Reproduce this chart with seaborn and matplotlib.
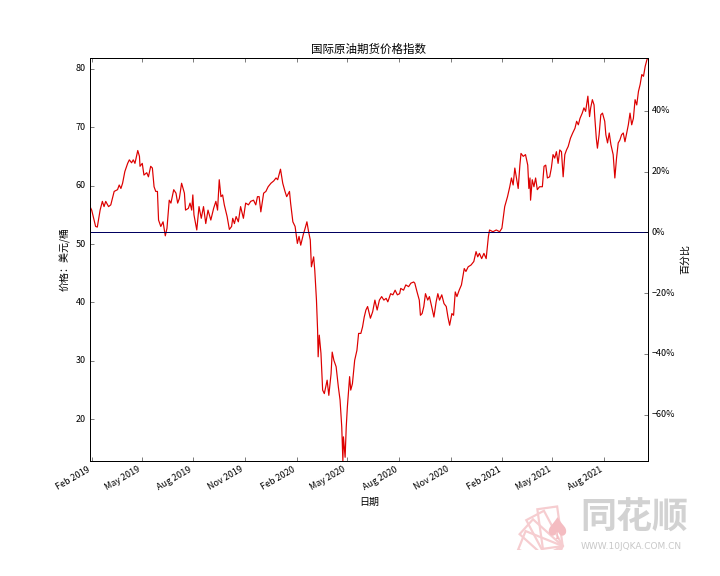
import numpy as np
import pandas as pd
import matplotlib

matplotlib.use("Agg")
import matplotlib.pyplot as plt
import matplotlib.dates as mdates
from matplotlib.patches import Rectangle
from matplotlib.ticker import PercentFormatter, MultipleLocator
import seaborn as sns

########
# Data #
########

# Month-day per year, price in USD per barrel
days_2019 = [
    "01-29", "02-01", "02-03", "02-08", "02-11", "02-16", "02-20", "02-23", "02-26",
    "03-03", "03-07", "03-13", "03-19", "03-22", "03-25", "03-28", "04-01", "04-06",
    "04-09", "04-13", "04-16", "04-19", "04-24", "04-27", "04-28", "05-02", "05-05",
    "05-10", "05-13", "05-17", "05-20", "05-23", "05-26", "05-29", "05-31", "06-04",
    "06-08", "06-12", "06-15", "06-19", "06-22", "06-27", "07-01", "07-04", "07-07",
    "07-11", "07-16", "07-18", "07-23", "07-26", "07-29", "07-31", "08-02", "08-07",
    "08-11", "08-15", "08-19", "08-23", "08-27", "09-01", "09-06", "09-10", "09-13",
    "09-16", "09-19", "09-22", "09-25", "09-30", "10-04", "10-08", "10-10", "10-13",
    "10-16", "10-20", "10-24", "10-29", "11-02", "11-07", "11-11", "11-16", "11-20",
    "11-23", "11-26", "11-29", "12-04", "12-08", "12-12", "12-17", "12-22", "12-26",
    "12-29",
]
prices_2019 = [
    56.4, 55.8, 55.0, 53.0, 52.9, 55.8, 57.3, 56.4, 57.3,
    56.4, 56.7, 59.0, 59.3, 60.1, 59.5, 60.4, 62.4, 63.8,
    64.4, 63.9, 64.4, 63.8, 66.0, 65.0, 63.3, 63.8, 61.8,
    62.2, 61.5, 63.3, 63.0, 59.8, 59.0, 59.0, 54.1, 53.0,
    53.8, 51.4, 52.7, 57.5, 57.0, 59.3, 58.7, 57.0, 57.8,
    60.4, 58.7, 55.8, 56.1, 57.0, 55.8, 58.4, 55.0, 52.4,
    56.4, 54.4, 56.4, 53.5, 55.8, 54.1, 56.1, 57.3, 55.8,
    61.0, 58.1, 58.4, 56.7, 54.7, 52.5, 53.0, 54.4, 53.5,
    54.7, 53.8, 56.4, 54.4, 57.0, 56.7, 57.3, 57.5, 56.7,
    58.1, 58.1, 55.5, 58.7, 59.0, 59.8, 60.4, 60.8, 61.3,
    61.0,
]

days_2020 = [
    "01-03", "01-07", "01-11", "01-14", "01-19", "01-21", "01-25", "01-29", "02-02",
    "02-05", "02-08", "02-13", "02-15", "02-19", "02-22", "02-25", "02-27", "03-02",
    "03-04", "03-07", "03-09", "03-10", "03-12", "03-15", "03-18", "03-21", "03-26",
    "03-29", "04-02", "04-04", "04-07", "04-11", "04-15", "04-18", "04-21", "04-23",
    "04-24", "04-27", "04-29", "05-01", "05-05", "05-07", "05-10", "05-14", "05-18",
    "05-21", "05-25", "05-28", "05-31", "06-03", "06-06", "06-11", "06-15", "06-19",
    "06-23", "06-27", "07-01", "07-05", "07-09", "07-12", "07-17", "07-21", "07-25",
    "07-29", "08-02", "08-04", "08-09", "08-13", "08-18", "08-22", "08-27", "08-29",
    "09-02", "09-06", "09-08", "09-11", "09-14", "09-17", "09-21", "09-24", "09-28",
    "10-02", "10-06", "10-09", "10-12", "10-16", "10-20", "10-24", "10-27", "10-30",
    "11-03", "11-06", "11-09", "11-12", "11-16", "11-20", "11-25", "11-28", "12-02",
    "12-07", "12-12", "12-16", "12-19", "12-22", "12-26", "12-30",
]
prices_2020 = [
    62.8, 60.4, 59.0, 58.1, 59.0, 57.0, 53.8, 53.0, 50.1,
    51.3, 49.8, 51.8, 52.4, 53.8, 52.1, 50.7, 46.1, 47.8,
    45.5, 40.4, 35.3, 30.7, 34.4, 31.3, 25.0, 24.4, 26.7,
    24.1, 27.8, 31.5, 30.1, 29.0, 25.5, 23.3, 18.7, 12.9,
    17.0, 13.5, 18.7, 22.1, 27.3, 25.0, 26.1, 30.1, 31.8,
    34.7, 34.7, 35.8, 37.5, 38.7, 39.3, 37.3, 38.4, 40.4,
    38.7, 40.4, 41.0, 40.4, 40.7, 40.1, 41.5, 41.3, 42.1,
    41.3, 41.5, 42.4, 42.1, 43.0, 42.7, 43.3, 43.5, 43.3,
    41.8, 40.4, 37.8, 38.1, 39.3, 41.5, 40.4, 41.0, 39.3,
    37.5, 40.1, 41.5, 40.4, 41.3, 39.8, 39.3, 37.5, 36.1,
    38.1, 37.8, 41.8, 41.0, 42.1, 43.0, 45.8, 45.3, 46.1,
    46.4, 47.0, 48.7, 47.8, 48.4, 47.5, 48.4,
]

days_2021 = [
    "01-03", "01-07", "01-09", "01-15", "01-21", "01-27", "01-31", "02-05", "02-10",
    "02-14", "02-17", "02-20", "02-23", "02-26", "03-01", "03-04", "03-06", "03-10",
    "03-14", "03-18", "03-20", "03-22", "03-23", "03-26", "03-29", "04-01", "04-04",
    "04-08", "04-13", "04-16", "04-19", "04-22", "04-26", "04-29", "05-02", "05-05",
    "05-08", "05-11", "05-14", "05-17", "05-20", "05-23", "05-26", "05-29", "06-02",
    "06-06", "06-10", "06-13", "06-16", "06-19", "06-23", "06-26", "06-29", "07-03",
    "07-06", "07-08", "07-11", "07-14", "07-15", "07-18", "07-20", "07-23", "07-26",
    "07-29", "08-02", "08-04", "08-07", "08-10", "08-13", "08-17", "08-20", "08-23",
    "08-26", "08-29", "09-01", "09-04", "09-07", "09-10", "09-13", "09-16", "09-19",
    "09-22", "09-25", "09-28", "10-01", "10-04", "10-07", "10-10", "10-13", "10-16",
    "10-18",
]
prices_2021 = [
    47.5, 51.3, 52.4, 52.1, 52.4, 52.1, 52.7, 56.4, 58.1,
    59.8, 61.3, 60.1, 63.0, 61.3, 59.5, 63.5, 65.5, 65.0,
    65.3, 63.5, 59.5, 61.3, 57.5, 61.0, 59.8, 61.3, 59.3,
    59.8, 59.8, 63.3, 63.5, 61.3, 61.5, 63.0, 65.3, 64.7,
    65.8, 63.8, 66.1, 65.8, 61.5, 65.3, 66.1, 66.7, 68.1,
    69.0, 69.8, 71.0, 70.4, 71.5, 72.4, 73.3, 72.7, 75.3,
    71.8, 73.3, 74.7, 73.8, 72.1, 68.1, 66.4, 68.7, 72.1,
    72.4, 71.0, 68.7, 67.3, 69.0, 67.0, 65.3, 61.3, 64.7,
    67.3, 67.8, 68.7, 69.0, 67.5, 69.0, 70.4, 72.4, 70.4,
    71.5, 74.7, 73.8, 76.1, 77.3, 79.0, 78.7, 80.4, 81.5,
    81.9,
]

# Reference price for the 0% line on the right axis
base_price = 52.0

title = "国际原油期货价格指数"
xlabel = "日期"
ylabel_left = "价格：美元/桶"
ylabel_right = "百分比"

dates = (
    ["2019-" + d for d in days_2019]
    + ["2020-" + d for d in days_2020]
    + ["2021-" + d for d in days_2021]
)
df = pd.DataFrame(
    {
        "date": pd.to_datetime(dates),
        "price": prices_2019 + prices_2020 + prices_2021,
    }
)

#########
# Style #
#########

plt.style.use("classic")
plt.rcParams["font.family"] = ["Noto Sans CJK SC", "DejaVu Sans"]
plt.rcParams["font.size"] = 10
plt.rcParams["axes.unicode_minus"] = True

########
# Plot #
########

fig, ax = plt.subplots(figsize=(10, 8), dpi=72, facecolor="white")

sns.lineplot(data=df, x="date", y="price", ax=ax, color="#dd0000", linewidth=1.2)
ax.axhline(base_price, color="#000060", linewidth=1.0)

ymin, ymax = df["price"].min(), df["price"].max()
ax.set_xlim(df["date"].min(), df["date"].max())
ax.set_ylim(ymin, ymax)
ax.yaxis.set_major_locator(MultipleLocator(10))

ax.xaxis.set_major_locator(mdates.MonthLocator(bymonth=[2, 5, 8, 11]))
ax.xaxis.set_major_formatter(mdates.DateFormatter("%b %Y"))

ax.set_title(title, fontsize=11.5)
ax.set_xlabel(xlabel, fontsize=10)
ax.set_ylabel(ylabel_left, fontsize=10)
ax.tick_params(labelsize=9)

# Right axis shows the change relative to the reference price
ax2 = ax.twinx()
ax2.set_ylim(ymin / base_price - 1, ymax / base_price - 1)
ax2.yaxis.set_major_locator(MultipleLocator(0.2))
ax2.yaxis.set_major_formatter(PercentFormatter(xmax=1, decimals=0))
ax2.set_ylabel(ylabel_right, fontsize=10)
ax2.tick_params(labelsize=9)

fig.autofmt_xdate()
fig.subplots_adjust(left=0.125, right=0.9, top=0.9, bottom=0.2)

# Watermark of the data source: a fan of cards with a spade, then the name
logo = fig.add_axes([0.701, 0.045, 0.0972, 0.0955])
logo.set_xlim(0, 70)
logo.set_ylim(0, 55)
logo.set_aspect("equal")
logo.axis("off")
for angle in [8, 28, 48, 68]:
    logo.add_patch(
        Rectangle((58, 4), -20, 40, angle=angle, fill=False,
                  edgecolor="#f6cdd0", linewidth=2.2)
    )
logo.text(52, 20, "\u2660", fontsize=30, color="#f4bcc1",
          ha="center", va="center", family=["DejaVu Sans"])

fig.text(0.806, 0.100, "同花顺", fontsize=36, color="#d2d2d2",
         ha="left", va="center", style="italic", weight="bold")
fig.text(0.806, 0.052, "WWW.10JQKA.COM.CN", fontsize=9, color="#c8c8c8",
         ha="left", va="center", family=["DejaVu Sans"])

plt.savefig("out.png", dpi=72, facecolor="white")
plt.close()
